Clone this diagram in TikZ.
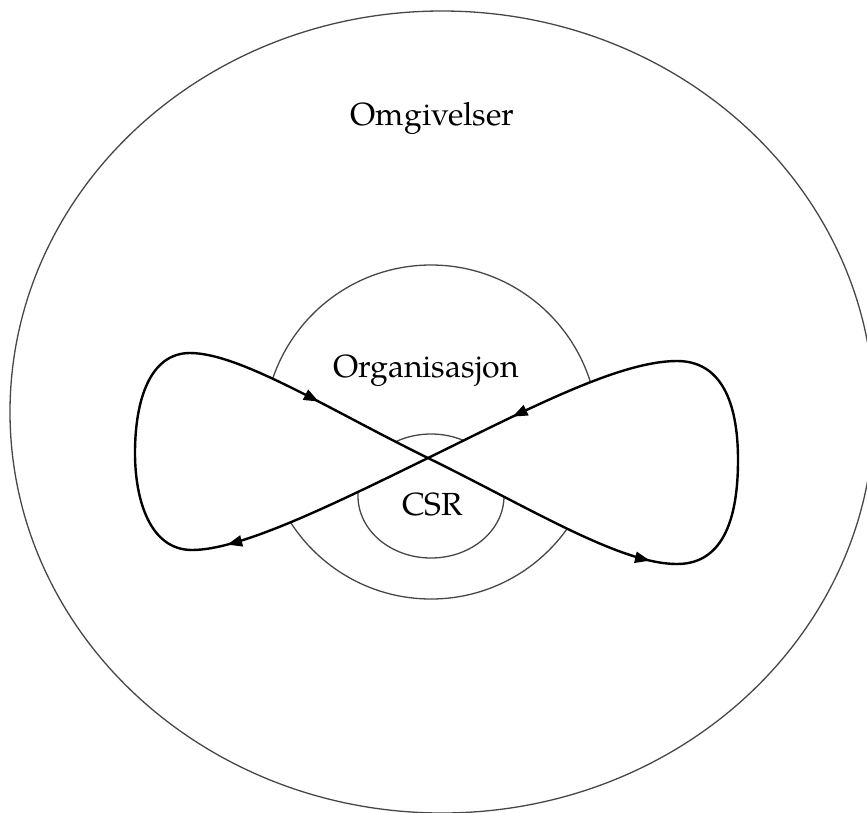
\documentclass[tikz,border=0pt]{standalone}
\usepackage{fontspec}
\setmainfont{texgyrepagella-regular.otf}
\usetikzlibrary{arrows.meta,decorations.markings}
\tikzset{
  ring/.style={draw=black!72, line width=1.3pt},
  loopline/.style={draw=black, line width=2.4pt, line cap=round, line join=round},
  flowmark/.style={postaction={decorate}, decoration={markings,
      mark=at position #1 with {\arrow{Triangle[length=15pt,width=11pt]}}}},
  textlabel/.style={font=\fontsize{32}{38}\selectfont, anchor=base, inner sep=0pt}
}
\begin{document}
\begin{tikzpicture}[x=1pt,y=-1pt]
\useasboundingbox (0,0) rectangle (867,812);
\fill[white] (0,0) rectangle (867,812);

% nested spheres
\draw[ring] (442,412) ellipse [x radius=432pt, y radius=401pt];
\draw[ring] (431,432) circle [radius=167pt];
\draw[ring] (431,496) ellipse [x radius=73pt, y radius=62pt];

% figure-eight loop
\coordinate (X)  at (428,458);
\coordinate (RB) at (677,564);
\coordinate (RR) at (738,460);
\coordinate (RT) at (677,361);
\coordinate (LB) at (192,550);
\coordinate (LL) at (135,453);
\coordinate (LT) at (190,353);

% the two lobes are opaque and cover the rings behind them
\fill[white] (X) .. controls +(102,50) and +(-57,0) .. (RB)
             .. controls +(48,0) and +(0,55) .. (RR)
             .. controls +(0,-60) and +(43,0) .. (RT)
             .. controls +(-57,0) and +(102,-50) .. (X) -- cycle;
\fill[white] (X) .. controls +(-98,48) and +(48,0) .. (LB)
             .. controls +(-42,0) and +(0,47) .. (LL)
             .. controls +(0,-53) and +(-40,0) .. (LT)
             .. controls +(50,0) and +(-98,-48) .. (X) -- cycle;

\draw[loopline, flowmark=0.9] (X) .. controls +(102,50) and +(-57,0) .. (RB);
\draw[loopline] (RB) .. controls +(48,0) and +(0,55) .. (RR)
                     .. controls +(0,-60) and +(43,0) .. (RT);
\draw[loopline, flowmark=0.65] (RT) .. controls +(-57,0) and +(102,-50) .. (X);
\draw[loopline, flowmark=0.86] (X) .. controls +(-98,48) and +(48,0) .. (LB);
\draw[loopline] (LB) .. controls +(-42,0) and +(0,47) .. (LL)
                     .. controls +(0,-53) and +(-40,0) .. (LT);
\draw[loopline, flowmark=0.53] (LT) .. controls +(50,0) and +(-98,-48) .. (X);

\node[textlabel] (omg) at (432.5,125) {Omgivelser};
\node[textlabel] (org) at (426,377) {Organisasjon};
\node[textlabel] (csr) at (432.5,515) {CSR};
\end{tikzpicture}
\end{document}
